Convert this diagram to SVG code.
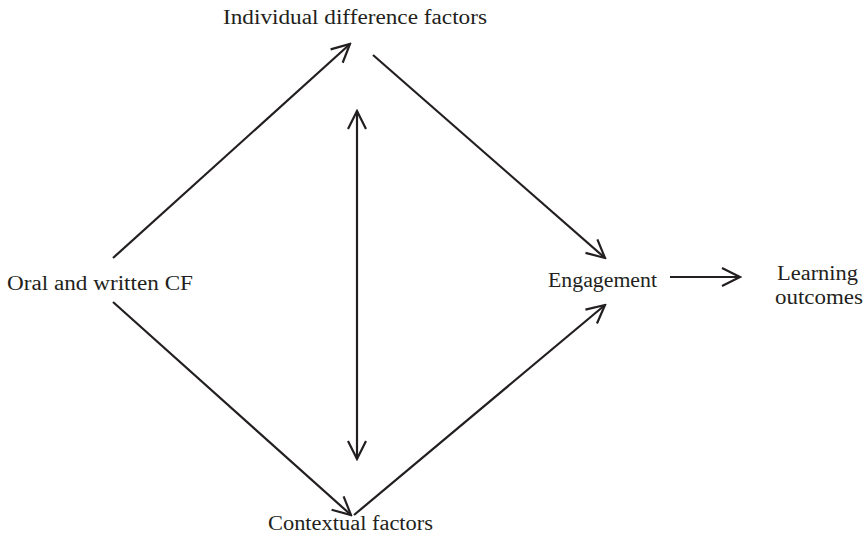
<svg xmlns="http://www.w3.org/2000/svg" width="864" height="538" viewBox="0 0 864 538">
<style>
text{font-family:"Liberation Serif","DejaVu Serif",serif;font-size:20px;fill:#231f20}
.c line{stroke:#231f20;stroke-width:2.2;fill:none}
</style>
<defs>
<marker id="a" viewBox="0 0 22 22" refX="20" refY="11" markerWidth="22" markerHeight="22" markerUnits="userSpaceOnUse" orient="auto-start-reverse">
<path d="M2,2 L20,11 L2,20" fill="none" stroke="#231f20" stroke-width="2.2"/>
</marker>
</defs>
<rect width="864" height="538" fill="#fff"/>
<g id="n-individual"><text x="223" y="24" textLength="264" lengthAdjust="spacingAndGlyphs">Individual difference factors</text></g>
<g id="n-oral"><text x="7" y="290" textLength="186" lengthAdjust="spacingAndGlyphs">Oral and written CF</text></g>
<g id="n-engagement"><text x="548" y="287" textLength="109" lengthAdjust="spacingAndGlyphs">Engagement</text></g>
<g id="n-learning"><text x="777" y="280" textLength="81" lengthAdjust="spacingAndGlyphs">Learning</text><text x="775" y="304" textLength="88" lengthAdjust="spacingAndGlyphs">outcomes</text></g>
<g id="n-contextual"><text x="268" y="530" textLength="165" lengthAdjust="spacingAndGlyphs">Contextual factors</text></g>
<g class="c">
<line x1="113" y1="258" x2="350" y2="44" marker-end="url(#a)"/>
<line x1="373" y1="55" x2="605" y2="258" marker-end="url(#a)"/>
<line x1="357" y1="111" x2="357" y2="459" marker-start="url(#a)" marker-end="url(#a)"/>
<line x1="113" y1="302" x2="351" y2="515" marker-end="url(#a)"/>
<line x1="354" y1="515" x2="605" y2="305" marker-end="url(#a)"/>
<line x1="670" y1="277" x2="740" y2="277" marker-end="url(#a)"/>
</g>
</svg>
